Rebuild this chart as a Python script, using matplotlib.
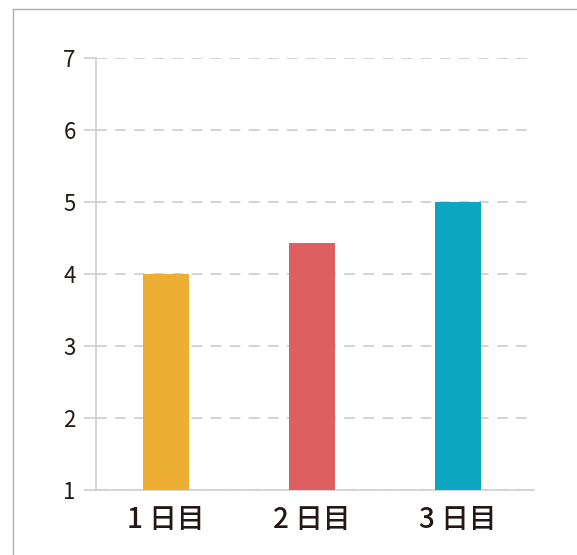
import matplotlib.pyplot as plt
from matplotlib.lines import Line2D

days = ["1 日目", "2 日目", "3 日目"]
values = [4.0, 4.43, 5.0]
colors = ["#ECAE33", "#DE5F60", "#0EA5C1"]
yticks = [1, 2, 3, 4, 5, 6, 7]

plt.rcParams['font.family'] = ['Noto Sans CJK JP', 'DejaVu Sans']

W, H = 577, 555
fig = plt.figure(figsize=(W / 100, H / 100), dpi=100)
ax = fig.add_axes([96 / W, 1 - 490 / H, (534 - 96) / W, (490 - 58) / H])

x = list(range(len(days)))
ax.bar(x, [v - 1 for v in values], bottom=1, width=0.32, color=colors, zorder=3)

ax.set_xlim(-0.48, 2.52)
ax.set_ylim(1, 7)
ax.set_yticks(yticks)
ax.set_xticks(x)
ax.set_xticklabels(days, fontsize=20, fontweight="medium", color="#231815")
ax.set_yticklabels([str(t) for t in yticks], fontsize=16, color="#231815")

ax.grid(axis="y", color="#c8c8c8", linestyle=(0, (7, 5.5)), linewidth=1.1, zorder=0)
for s in ["top", "right"]:
    ax.spines[s].set_visible(False)
for s in ["left", "bottom"]:
    ax.spines[s].set_color("#d0d0d0")
    ax.spines[s].set_linewidth(1.2)
ax.tick_params(axis="y", length=8.6, width=1.2, color="#d0d0d0", pad=6)
ax.tick_params(axis="x", length=0, pad=11)

# frame of the screenshot
fig.add_artist(Line2D([12.5 / W, 12.5 / W], [0, 1 - 8.5 / H], color="#b0b0b0", lw=1))
fig.add_artist(Line2D([12.5 / W, 1], [1 - 8.5 / H, 1 - 8.5 / H], color="#b0b0b0", lw=1))

fig.savefig("out.png", dpi=100)
